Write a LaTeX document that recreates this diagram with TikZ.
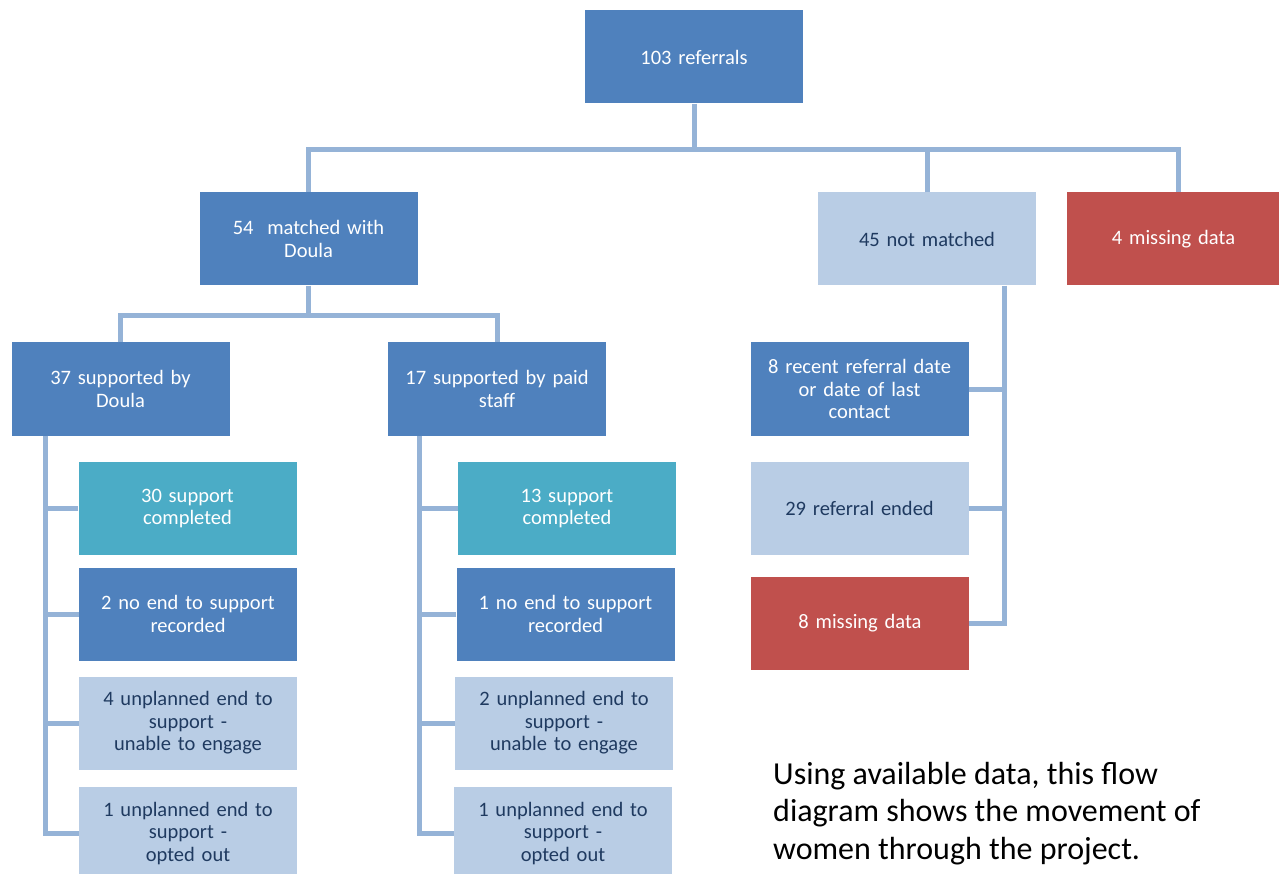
\documentclass[tikz,border=0pt]{standalone}
\usepackage{fontspec}
\setmainfont{Carlito}
\usepackage{tikz}

\definecolor{boxblue}{HTML}{4F81BD}
\definecolor{boxpale}{HTML}{B9CDE5}
\definecolor{boxteal}{HTML}{4BACC6}
\definecolor{boxred}{HTML}{C0504D}
\definecolor{linkblue}{HTML}{95B3D7}
\definecolor{textnavy}{HTML}{1F3A60}

\begin{document}
\begin{tikzpicture}[x=1pt, y=-1pt,
    mainbox/.style={rectangle, fill=boxblue, text=white, minimum width=218pt, minimum height=93pt,
      inner sep=0pt, text width=214pt, align=center, font=\fontsize{20.5}{22.5}\selectfont},
    palebox/.style={mainbox, fill=boxpale, text=textnavy},
    tealbox/.style={mainbox, fill=boxteal},
    warnbox/.style={mainbox, fill=boxred},
    link/.style={draw=linkblue, line width=5pt}]
        \useasboundingbox (0,0) rectangle (1279,874);
        \def \lsp {34pt} % spine offset, left trees
        \def \rsp {32pt} % spine offset, right tree

        % top levels
        \node[mainbox] (refs) at (694,57) {103 referrals};
        \node[mainbox] (matched) at (308.5,239) {54 \ matched with\\Doula};
        \node[palebox] (notmatched) at (927,239) {45 not matched};
        \node[warnbox, minimum width=211pt] (missing) at (1173.5,239) {4 missing data};
        \node[mainbox] (doula) at (120.5,389) {37 supported by\\Doula};
        \node[mainbox] (paid) at (497,389) {17 supported by paid\\staff};

        % doula branch
        \node[tealbox] (d1) at (187.5,508.5) {30 support\\completed};
        \node[mainbox] (d2) at (188,614) {2 no end to support\\recorded};
        \node[palebox] (d3) at (188,723) {4 unplanned end to\\support -\\unable to engage};
        \node[palebox] (d4) at (188,833.5) {1 unplanned end to\\support -\\opted out};

        % paid staff branch
        \node[tealbox] (p1) at (567,508.5) {13 support\\completed};
        \node[mainbox] (p2) at (565.5,614) {1 no end to support\\recorded};
        \node[palebox] (p3) at (564,723) {2 unplanned end to\\support -\\unable to engage};
        \node[palebox] (p4) at (563,833.5) {1 unplanned end to\\support -\\opted out};

        % not matched branch
        \node[mainbox] (n1) at (859.5,389) {8 recent referral date\\or date of last\\contact};
        \node[palebox] (n2) at (859.5,508.5) {29 referral ended};
        \node[warnbox] (n3) at (860,623) {8 missing data};

        \node[anchor=north west, align=left, inner sep=0pt, font=\fontsize{32}{37.5}\selectfont]
          (note) at (773,762) {Using available data, this flow\\diagram shows the movement of\\women through the project.};

        % connectors
        \coordinate (bus) at (694,150);
        \coordinate (bus2) at (308.5,316);
        \draw[link] (refs.south) -- (bus);
        \draw[link] (matched.north) |- (bus) -| ([xshift=4.5pt]missing.north);
        \draw[link] (notmatched.north) -- (notmatched.north |- bus);
        \draw[link] (matched.south) -- (bus2);
        \draw[link] (doula.north) |- (bus2) -| (paid.north);

        \coordinate (dspine) at ([xshift=\lsp]doula.south west);
        \coordinate (pspine) at ([xshift=\lsp-2pt]paid.south west);
        \coordinate (nspine) at ([xshift=-\rsp]notmatched.south east);
        \draw[link] (dspine) |- (d4.west);
        \draw[link] (pspine) |- (p4.west);
        \draw[link] (nspine) |- (n3.east);
        \foreach \k in {1,2,3}{
          \draw[link] (d\k.west) -- (d\k.west -| dspine);
          \draw[link] (p\k.west) -- (p\k.west -| pspine);
        }
        \foreach \k in {1,2}
          \draw[link] (n\k.east) -- (n\k.east -| nspine);
\end{tikzpicture}
\end{document}
